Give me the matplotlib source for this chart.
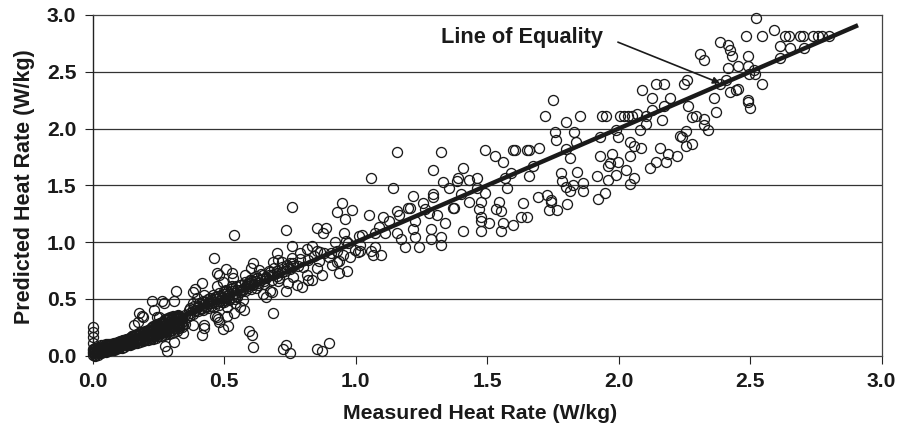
import matplotlib
matplotlib.use('Agg')
import matplotlib.pyplot as plt

plt.rcParams['font.family'] = ['Liberation Sans', 'DejaVu Sans']

# upper right part of the cloud
upper_x = [2.522,2.484,2.545,2.589,2.634,2.649,2.689,2.702,2.74,2.759,2.772,2.801,2.613,2.651,2.704,2.613,2.386,2.415,2.423,2.432,2.492,2.309,2.326,2.415,2.454,2.492,2.514,2.497,2.518,2.545,2.408,2.385,2.423,2.446,2.455,2.364,2.37,2.492,2.492,2.50,
           2.142,2.173,2.09,2.128,2.196,2.249,2.258,2.173,2.128,2.166,2.265,2.28,2.295,2.326,2.324,2.341,2.257,2.233,2.239,2.256,2.28,2.158,2.189,2.22,2.181,2.143,2.12,
           1.75,1.718,1.801,1.854,1.936,1.952,2.005,2.021,2.037,2.05,2.068,2.105,2.105,2.082,1.99,1.93,1.998,1.756,1.763,1.831,1.839,1.801,1.816,2.044,2.058,2.083,2.044,
           1.93,1.976,1.967,1.959,1.998,2.029,1.991,1.96,1.916,2.059,2.044,1.84,1.779,1.786,1.801,1.827,1.816,1.863,1.863,1.947,1.922,
           1.492,1.53,1.56,1.606,1.598,1.658,1.653,1.696,1.673,1.658,1.589,1.568,1.575,1.492,1.694,1.726,1.741]
upper_y = [2.973,2.814,2.814,2.864,2.814,2.814,2.814,2.814,2.814,2.814,2.814,2.814,2.726,2.706,2.706,2.617,2.761,2.732,2.691,2.638,2.638,2.656,2.603,2.532,2.55,2.55,2.515,2.48,2.48,2.389,2.427,2.392,2.321,2.339,2.345,2.268,2.145,2.251,2.236,2.18,
           2.392,2.392,2.339,2.268,2.268,2.392,2.427,2.198,2.163,2.075,2.198,2.098,2.11,2.081,2.028,1.987,1.975,1.934,1.922,1.846,1.863,1.831,1.775,1.761,1.708,1.708,1.655,
           2.251,2.11,2.057,2.11,2.11,2.11,2.11,2.11,2.11,2.11,2.127,2.11,2.04,1.987,1.987,1.922,1.922,1.969,1.899,1.969,1.881,1.816,1.74,1.881,1.849,1.831,1.761,
           1.761,1.778,1.693,1.673,1.705,1.637,1.587,1.549,1.585,1.567,1.514,1.62,1.605,1.535,1.482,1.5,1.447,1.517,1.447,1.429,1.376,
           1.814,1.761,1.708,1.814,1.814,1.814,1.814,1.831,1.673,1.585,1.605,1.567,1.479,1.429,1.4,1.414,1.37]

# middle of the cloud
middle_x = [1.158,1.324,1.06,1.142,1.294,1.331,1.408,1.39,1.385,1.431,1.461,1.355,1.461,1.40,1.294,1.294,1.218,1.256,1.431,1.37,1.469,
            1.2,1.157,1.165,1.264,1.279,1.309,1.051,1.104,1.127,1.226,1.34,1.089,1.111,1.073,1.157,1.218,1.226,1.286,1.286,1.324,1.324,1.408,
            1.172,1.188,1.241,1.073,1.058,1.066,1.096,1.023,1.016,1.016,
            1.477,1.545,1.535,1.553,1.635,1.477,1.477,1.507,1.56,1.63,1.651,1.598,1.477,1.553,1.741,1.734,1.764,1.802,1.372,1.205]
middle_y = [1.796,1.796,1.567,1.479,1.635,1.532,1.655,1.567,1.538,1.55,1.567,1.479,1.479,1.427,1.427,1.394,1.409,1.341,1.356,1.303,1.289,
            1.303,1.271,1.236,1.289,1.253,1.236,1.236,1.218,1.183,1.183,1.165,1.13,1.077,1.077,1.077,1.113,1.042,1.113,1.025,1.042,0.972,1.095,
            1.025,0.954,0.954,0.954,0.919,0.884,0.884,1.06,0.972,0.919,
            1.356,1.356,1.289,1.271,1.341,1.218,1.183,1.165,1.165,1.218,1.218,1.148,1.095,1.095,1.356,1.286,1.286,1.339,1.303,1.303]

# lower left, spread around the band
lower_x = [0.757,0.947,0.93,0.985,0.96,0.734,0.853,0.886,0.877,0.954,0.921,0.963,1.014,0.757,0.536,0.46,
           0.833,0.814,0.852,0.864,0.788,0.702,0.757,0.706,0.687,0.72,0.75,0.978,0.905,0.998,1.01,0.928,0.909,0.938,0.968,0.938,0.852,0.87,0.814,0.82,0.833,0.795,0.763,0.778,0.734,0.741,0.706,0.674,0.68,0.658,0.649,
           0.611,0.602,0.632,0.506,0.531,0.474,0.482,0.579,0.598,0.589,0.624,0.649,0.674,0.414,0.474,0.497,0.535,0.531,0.56,0.389,0.383,0.316,0.309,0.226,0.265,0.271,0.395,0.423,0.459,0.573,0.56,0.575,0.541,0.511,0.536,0.51,0.516,0.497,0.482,0.471,0.476,0.465,
           0.687,0.596,0.604,0.611,0.734,0.725,0.75,0.853,0.871,0.90,
           0.176,0.186,0.19,0.234,0.243,0.251,0.157,0.174,0.423,0.423,0.416,0.383,0.345,0.309,0.275,0.284,0.0,0.0,0.0,0.0]
lower_y = [1.306,1.347,1.268,1.283,1.2,1.109,1.127,1.127,1.077,1.077,1.004,1.013,1.057,0.969,1.06,0.863,
           0.969,0.936,0.925,0.916,0.901,0.907,0.857,0.842,0.828,0.828,0.813,0.866,0.907,0.93,0.916,0.828,0.798,0.83,0.746,0.725,0.769,0.71,0.71,0.666,0.666,0.602,0.696,0.622,0.572,0.637,0.658,0.572,0.564,0.52,0.543,
           0.813,0.769,0.754,0.76,0.731,0.725,0.71,0.71,0.666,0.637,0.681,0.71,0.74,0.637,0.614,0.652,0.681,0.614,0.578,0.584,0.564,0.567,0.482,0.482,0.482,0.461,0.505,0.534,0.534,0.49,0.432,0.402,0.461,0.426,0.373,0.35,0.261,0.232,0.3,0.343,0.32,0.35,
           0.376,0.22,0.182,0.08,0.097,0.059,0.024,0.059,0.044,0.109,
           0.379,0.35,0.34,0.402,0.344,0.338,0.27,0.3,0.27,0.241,0.182,0.27,0.197,0.124,0.088,0.044,0.256,0.212,0.167,0.109]

# dense band close to the line
band_x = [0.0,0.0,0.0,0.005,0.01,0.01,0.015,0.02,0.02,0.025,0.03,0.03,0.04,0.04,0.05,0.05,0.06,0.06,0.07,0.07,0.08,0.08,0.09,0.09,0.10,0.10,0.11,0.11,0.12,0.12,0.13,0.13,0.14,0.14,0.15,0.15,0.16,0.16,0.17,0.17,0.18,0.18,0.19,0.19,0.20,0.20,0.21,0.21,0.22,0.22,0.23,0.23,0.24,0.24,0.25,0.25,0.26,0.26,0.27,0.27,0.28,0.28,0.29,0.29,0.30,0.30,0.31,0.31,0.32,0.32,0.33,0.33,0.34,0.34,0.35,0.35,
          0.37,0.37,0.38,0.39,0.40,0.41,0.42,0.43,0.44,0.45,0.46,0.47,0.48,0.48,0.49,0.50,0.50,0.51,0.52,0.53,0.54,0.55,0.56,0.57,0.58,0.59,0.60,0.61,0.62,0.63,0.64,0.65,0.66,0.67,0.68,0.69,0.70,0.71,0.72,0.73,0.74,0.75,0.76,0.78,0.79,0.80,0.82,0.84,0.86,0.88,0.90,0.93,0.95,0.97]
band_y = [0.01,0.03,0.05,0.02,0.0,0.04,0.03,0.01,0.05,0.03,0.02,0.06,0.03,0.07,0.04,0.08,0.05,0.09,0.05,0.09,0.06,0.10,0.07,0.11,0.08,0.12,0.09,0.13,0.09,0.14,0.10,0.15,0.11,0.16,0.11,0.17,0.12,0.18,0.13,0.19,0.14,0.21,0.14,0.20,0.15,0.22,0.16,0.23,0.16,0.24,0.17,0.25,0.18,0.26,0.19,0.27,0.20,0.28,0.21,0.29,0.21,0.31,0.22,0.30,0.23,0.32,0.24,0.33,0.25,0.34,0.26,0.35,0.27,0.33,0.28,0.36,
          0.42,0.36,0.46,0.39,0.44,0.41,0.48,0.44,0.50,0.46,0.47,0.52,0.45,0.55,0.51,0.47,0.57,0.53,0.50,0.60,0.55,0.52,0.62,0.58,0.65,0.60,0.67,0.63,0.70,0.62,0.72,0.66,0.69,0.75,0.71,0.77,0.73,0.68,0.78,0.75,0.80,0.76,0.82,0.79,0.85,0.78,0.84,0.88,0.83,0.90,0.87,0.92,0.89,0.99]

# the solid black stretch at the low end, many overlapping circles
solid_x = [0.00,0.00,0.01,0.01,0.01,0.02,0.02,0.02,0.03,0.03,0.03,0.04,0.04,0.04,0.05,0.05,0.05,0.06,0.06,0.06,0.07,0.07,0.07,0.08,0.08,0.08,0.09,0.09,0.09,0.10,0.10,0.10,0.11,0.11,0.11,0.12,0.12,0.12,0.13,0.13,0.13,0.14,0.14,0.14,0.15,0.15,0.15,0.16,0.16,0.16,0.17,0.17,0.17,0.18,0.18,0.18,0.19,0.19,0.19,0.20,0.20,0.20,0.21,0.21,0.21,0.22,0.22,0.22,0.23,0.23,0.23,0.23,0.24,0.24,0.24,0.24,0.25,0.25,0.25,0.25,0.26,0.26,0.26,0.26,0.27,0.27,0.27,0.27,0.28,0.28,0.28,0.28,0.29,0.29,0.29,0.29,0.30,0.30,0.30,0.30,0.31,0.31,0.31,0.31,0.32,0.32,0.32,0.33,0.33,0.33,0.34,0.34]
solid_y = [0.02,0.06,0.01,0.04,0.07,0.02,0.05,0.08,0.03,0.06,0.09,0.03,0.06,0.09,0.03,0.07,0.10,0.04,0.07,0.10,0.05,0.08,0.10,0.05,0.08,0.11,0.06,0.09,0.11,0.07,0.10,0.12,0.07,0.10,0.13,0.08,0.11,0.14,0.09,0.12,0.15,0.09,0.13,0.16,0.10,0.14,0.17,0.11,0.14,0.17,0.11,0.15,0.18,0.12,0.16,0.19,0.13,0.17,0.20,0.14,0.18,0.21,0.14,0.18,0.22,0.15,0.19,0.23,0.15,0.19,0.23,0.26,0.16,0.20,0.24,0.27,0.17,0.21,0.25,0.28,0.17,0.21,0.25,0.29,0.18,0.22,0.26,0.30,0.19,0.23,0.27,0.31,0.19,0.24,0.28,0.32,0.20,0.25,0.29,0.33,0.21,0.26,0.30,0.34,0.22,0.27,0.32,0.24,0.28,0.33,0.25,0.30]

# second pass over the same stretch, fills the holes left between circles
fill_x = [0.005,0.005,0.015,0.015,0.025,0.025,0.035,0.035,0.045,0.045,0.055,0.055,0.065,0.065,0.075,0.075,0.085,0.085,0.095,0.095,0.105,0.105,0.115,0.115,0.125,0.125,0.135,0.135,0.145,0.145,0.155,0.155,0.165,0.165,0.175,0.175,0.185,0.185,0.195,0.195,0.205,0.205,0.215,0.215,0.225,0.225,0.235,0.235,0.245,0.245,0.255,0.255,0.265,0.265,0.275,0.275,0.285,0.285,0.295,0.295,0.305,0.305,0.315,0.315,0.325,0.325,0.335,0.335]
fill_y = [0.03,0.05,0.03,0.06,0.04,0.07,0.04,0.08,0.05,0.09,0.05,0.09,0.06,0.10,0.06,0.10,0.07,0.11,0.08,0.12,0.09,0.13,0.09,0.14,0.10,0.14,0.11,0.15,0.12,0.16,0.13,0.17,0.13,0.18,0.14,0.19,0.15,0.20,0.16,0.21,0.17,0.22,0.17,0.23,0.18,0.25,0.19,0.26,0.20,0.28,0.21,0.29,0.22,0.30,0.23,0.32,0.24,0.33,0.25,0.34,0.26,0.35,0.27,0.35,0.28,0.36,0.29,0.34]

# darker stretch along the line between 0.35 and 0.75
ridge_x = [0.36,0.37,0.38,0.38,0.39,0.40,0.40,0.41,0.42,0.42,0.43,0.44,0.44,0.45,0.45,0.46,0.46,0.47,0.47,0.48,0.49,0.49,0.50,0.50,0.51,0.51,0.52,0.52,0.53,0.53,0.54,0.54,0.55,0.55,0.56,0.57,0.58,0.59,0.60,0.60,0.61,0.62,0.62,0.63,0.64,0.65,0.66,0.67,0.68,0.69,0.70,0.70,0.72,0.74,0.76,
           0.365,0.385,0.405,0.425,0.445,0.465,0.485,0.505,0.525,0.545,0.565,0.585,0.605,0.625]
ridge_y = [0.34,0.38,0.37,0.41,0.40,0.39,0.43,0.42,0.40,0.45,0.43,0.42,0.46,0.44,0.49,0.43,0.47,0.46,0.50,0.48,0.47,0.52,0.49,0.54,0.51,0.56,0.49,0.54,0.52,0.57,0.50,0.55,0.53,0.58,0.56,0.59,0.57,0.61,0.59,0.64,0.62,0.60,0.66,0.64,0.67,0.63,0.68,0.71,0.67,0.72,0.70,0.75,0.74,0.77,0.79,
           0.40,0.44,0.46,0.47,0.51,0.52,0.53,0.58,0.59,0.61,0.62,0.63,0.66,0.68]

grid_values = [0.5, 1.0, 1.5, 2.0, 2.5]
x_ticks = [0.0, 0.5, 1.0, 1.5, 2.0, 2.5, 3.0]
y_ticks = [0.0, 0.5, 1.0, 1.5, 2.0, 2.5, 3.0]
line_of_equality = [0.0, 2.91]

fig = plt.figure(figsize=(9.07, 4.26), dpi=100)
ax = fig.add_axes([92.7 / 907, 1 - 355.7 / 426, 789 / 907, 340.7 / 426])

for part_x, part_y in [(upper_x, upper_y), (middle_x, middle_y), (lower_x, lower_y), (band_x, band_y),
                       (solid_x, solid_y), (fill_x, fill_y), (ridge_x, ridge_y)]:
    ax.plot(part_x, part_y, linestyle='none', marker='o', markersize=7.2, markerfacecolor='none',
            markeredgecolor='#1a1a1a', markeredgewidth=0.95, clip_on=False, zorder=3)

ax.plot(line_of_equality, line_of_equality, color='#1a1a1a', linewidth=3.2, solid_capstyle='butt', zorder=4)

ax.set_xlim(0, 3)
ax.set_ylim(0, 3)
ax.set_xticks(x_ticks)
ax.set_yticks(y_ticks)
ax.set_xticklabels([f'{v:.1f}' for v in x_ticks], fontsize=15.2, fontweight='bold', color='#1a1a1a')
ax.set_yticklabels([f'{v:.1f}' for v in y_ticks], fontsize=15.2, fontweight='bold', color='#1a1a1a')
ax.tick_params(axis='both', length=5.8, width=0.8, color='#222222', pad=6)

for v in grid_values:
    ax.axhline(v, color='#333333', linewidth=0.9, zorder=1)
for side in ['top', 'right', 'bottom']:
    ax.spines[side].set_color('#444444')
    ax.spines[side].set_linewidth(0.9)
ax.spines['left'].set_color('#222222')
ax.spines['left'].set_linewidth(1.0)

ax.set_xlabel('Measured Heat Rate (W/kg)', fontsize=15.3, fontweight='bold', color='#1a1a1a')
ax.set_ylabel('Predicted Heat Rate (W/kg)', fontsize=15.5, fontweight='bold', color='#1a1a1a')
ax.xaxis.set_label_coords(0.4915, -0.143)
ax.yaxis.set_label_coords(-0.0735, 0.497)

ax.annotate('', xy=(2.385, 2.40), xytext=(1.997, 2.761),
            arrowprops=dict(arrowstyle='-|>', color='#1a1a1a', lw=1.2, shrinkA=0, shrinkB=0), zorder=5)
ax.text(1.325, 2.805, 'Line of Equality', fontsize=15.7, fontweight='bold', color='#1a1a1a', va='center', ha='left')

fig.savefig('out.png', dpi=100)
